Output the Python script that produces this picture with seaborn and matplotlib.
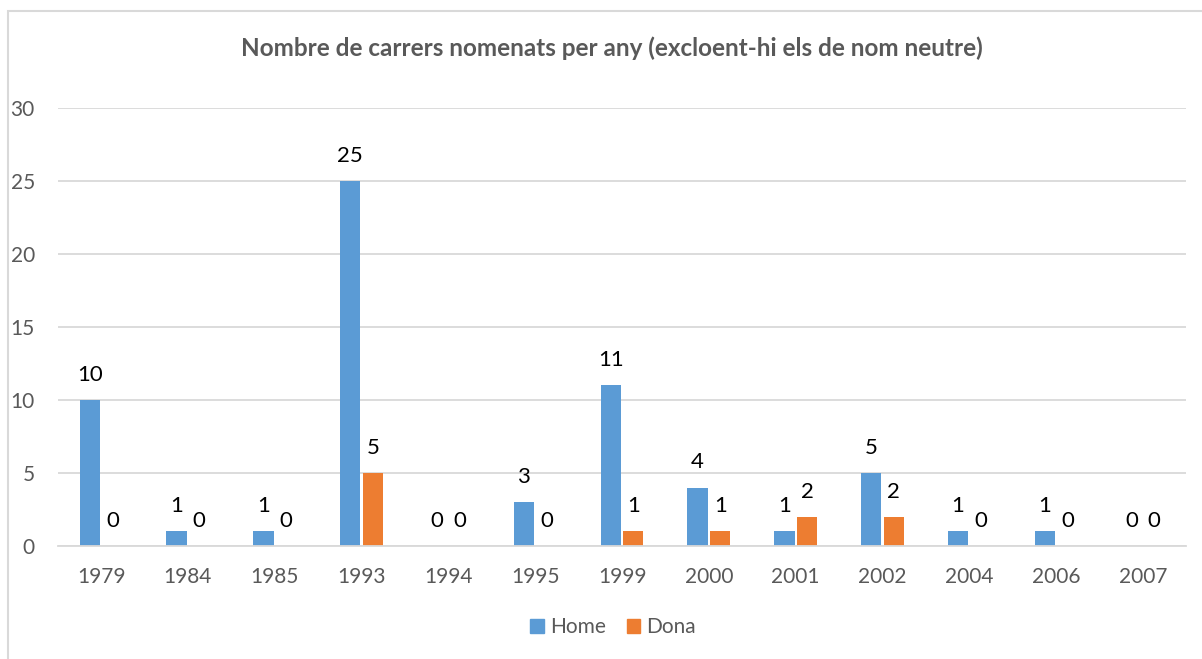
import pandas as pd
import matplotlib.pyplot as plt
import seaborn as sns
from matplotlib.patches import Rectangle

years = ['1979', '1984', '1985', '1993', '1994', '1995', '1999',
         '2000', '2001', '2002', '2004', '2006', '2007']
home = [10, 1, 1, 25, 0, 3, 11, 4, 1, 5, 1, 1, 0]
dona = [0, 0, 0, 5, 0, 0, 1, 1, 2, 2, 0, 0, 0]
series = ['Home', 'Dona']
colors = ['#5B9BD5', '#ED7D31']

df = pd.DataFrame({
    'any': years * 2,
    'carrers': home + dona,
    'genere': ['Home'] * len(years) + ['Dona'] * len(years),
})

sns.set_theme(style='white')
plt.rcParams['font.family'] = ['Lato', 'DejaVu Sans']

fig = plt.figure(figsize=(12.02, 6.59), dpi=100)
ax = fig.add_axes([0.048, 0.1715, 0.939, 0.6645])

sns.barplot(data=df, x='any', y='carrers', hue='genere', hue_order=series,
            palette=colors, width=0.52, gap=0.1, order=years, ax=ax,
            saturation=1, linewidth=0, legend=True)

for cont in ax.containers:
    ax.bar_label(cont, fontsize=16, color='black', padding=11)

ax.set_ylim(0, 30)
ax.set_yticks(range(0, 31, 5))
ax.set_xlim(-0.5, len(years) - 0.5)
ax.grid(axis='y', color='#d9d9d9', linewidth=1.3)
ax.set_axisbelow(True)
for s in ['top', 'right', 'left']:
    ax.spines[s].set_visible(False)
ax.spines['bottom'].set_color('#d9d9d9')
ax.spines['bottom'].set_linewidth(1.3)
ax.tick_params(axis='both', length=0, labelsize=15, colors='#595959')
ax.tick_params(axis='y', pad=16.5)
ax.tick_params(axis='x', pad=15)
ax.set_xlabel('')
ax.set_ylabel('')

ax.legend_.remove()
handles = [Rectangle((0, 0), 1, 1, color=c) for c in colors]
fig.legend(handles, series, loc='center', bbox_to_anchor=(0.51, 0.048),
           ncol=2, frameon=False, fontsize=15, handlelength=0.65,
           handleheight=0.65, handletextpad=0.3, columnspacing=1.0,
           labelcolor='#595959')

fig.text(0.509, 0.927, 'Nombre de carrers nomenats per any (excloent-hi els de nom neutre)',
         ha='center', va='center', fontsize=17.5, fontweight='bold', color='#595959')

fig.patches.append(Rectangle((0.0067, -0.1), 1.2, 1.083, transform=fig.transFigure,
                             fill=False, edgecolor='#d9d9d9', linewidth=1.5))

fig.savefig('out.png', dpi=100)
